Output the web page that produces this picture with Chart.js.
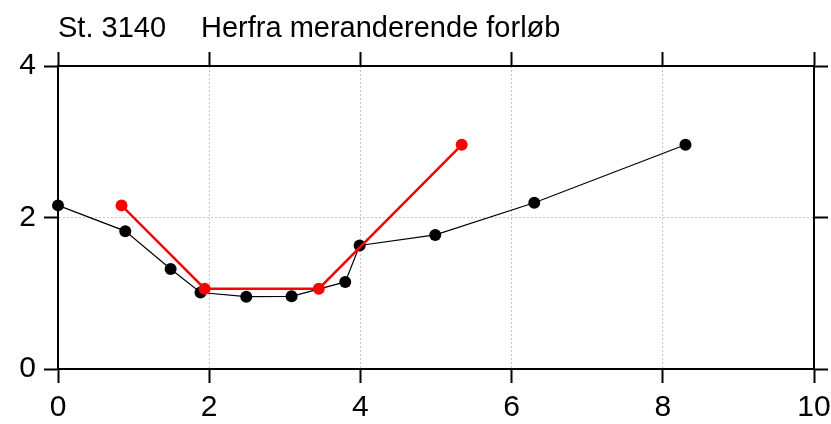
<!DOCTYPE html>
<html>
<head>
<meta charset="utf-8">
<script src="https://cdn.jsdelivr.net/npm/chart.js@4"></script>
<style>
  html, body { margin: 0; padding: 0; background: #fff; }
</style>
</head>
<body>
<canvas id="chart" width="831" height="424"></canvas>
<script>
// station profile
const stationLabel = "St. 3140";
const titleText = "Herfra meranderende forløb";

const measuredX = [0, 0.89, 1.49, 1.885, 2.49, 3.09, 3.80, 3.99, 4.99, 6.30, 8.30];
const measuredY = [2.16, 1.82, 1.32, 1.01, 0.955, 0.96, 1.15, 1.63, 1.77, 2.195, 2.96];

const designX = [0.84, 1.94, 3.45, 5.34];
const designY = [2.16, 1.06, 1.06, 2.96];

const xTicks = [0, 2, 4, 6, 8, 10];
const yTicks = [0, 2, 4];

const FONT = '"Liberation Sans", Arial, sans-serif';

function toPoints(xs, ys) {
  return xs.map((x, i) => ({ x: x, y: ys[i] }));
}

// dotted grid only inside, the frame is drawn by the axis borders
function innerGrid(min, max) {
  return function (ctx) {
    const v = ctx.tick && ctx.tick.value;
    return (v === min || v === max) ? 'rgba(0,0,0,0)' : '#c4c4c4';
  };
}

const titlePlugin = {
  id: 'stationTitle',
  afterDraw(chart) {
    const ctx = chart.ctx;
    const left = chart.chartArea.left;
    ctx.save();
    ctx.font = '29px ' + FONT;
    ctx.fillStyle = '#000';
    ctx.textBaseline = 'alphabetic';
    ctx.textAlign = 'left';
    ctx.fillText(stationLabel, left, 37);
    ctx.fillText(titleText, left + 143, 37);
    ctx.restore();
  }
};

const ctx = document.getElementById('chart').getContext('2d');
new Chart(ctx, {
  type: 'scatter',
  data: {
    datasets: [
      {
        label: 'design',
        data: toPoints(designX, designY),
        showLine: true,
        borderColor: '#ff0000',
        backgroundColor: '#ff0000',
        borderWidth: 2.5,
        pointRadius: 6,
        pointBorderWidth: 0,
        clip: false,
        order: 0
      },
      {
        label: 'measured',
        data: toPoints(measuredX, measuredY),
        showLine: true,
        borderColor: '#000000',
        backgroundColor: '#000000',
        borderWidth: 1.2,
        pointRadius: 6,
        pointBorderWidth: 0,
        clip: false,
        order: 1
      }
    ]
  },
  options: {
    responsive: false,
    animation: false,
    layout: {
      padding: { top: 52, left: 0, right: 0, bottom: 0 }
    },
    plugins: {
      legend: { display: false },
      tooltip: { enabled: false },
      title: { display: false }
    },
    scales: {
      x: {
        type: 'linear',
        position: 'bottom',
        min: 0,
        max: 10,
        afterBuildTicks: (axis) => { axis.ticks = xTicks.map(v => ({ value: v })); },
        afterFit: (axis) => { axis.height = 55; axis.paddingLeft = 0; axis.paddingRight = 0; },
        grid: {
          color: innerGrid(0, 10),
          lineWidth: 1,
          tickColor: '#000',
          tickWidth: 2,
          tickLength: 14
        },
        border: { display: true, color: '#000', width: 2, dash: [2, 2] },
        ticks: {
          color: '#000',
          padding: 10,
          maxRotation: 0,
          font: { family: FONT, size: 30, lineHeight: 1 }
        }
      },
      xTop: {
        type: 'linear',
        position: 'top',
        min: 0,
        max: 10,
        afterBuildTicks: (axis) => { axis.ticks = xTicks.map(v => ({ value: v })); },
        afterFit: (axis) => { axis.height = 14; axis.paddingLeft = 0; axis.paddingRight = 0; },
        grid: {
          drawOnChartArea: false,
          tickColor: '#000',
          tickWidth: 2,
          tickLength: 14
        },
        border: { display: true, color: '#000', width: 2 },
        ticks: { display: false }
      },
      y: {
        type: 'linear',
        position: 'left',
        min: 0,
        max: 4,
        afterBuildTicks: (axis) => { axis.ticks = yTicks.map(v => ({ value: v })); },
        afterFit: (axis) => { axis.width = 58; axis.paddingTop = 0; axis.paddingBottom = 0; },
        grid: {
          color: innerGrid(0, 4),
          lineWidth: 1,
          tickColor: '#000',
          tickWidth: 2,
          tickLength: 14
        },
        border: { display: true, color: '#000', width: 2, dash: [2, 2] },
        ticks: {
          color: '#000',
          padding: 8,
          font: { family: FONT, size: 30, lineHeight: 1 }
        }
      },
      yRight: {
        type: 'linear',
        position: 'right',
        min: 0,
        max: 4,
        afterBuildTicks: (axis) => { axis.ticks = yTicks.map(v => ({ value: v })); },
        afterFit: (axis) => { axis.width = 17; axis.paddingTop = 0; axis.paddingBottom = 0; },
        grid: {
          drawOnChartArea: false,
          tickColor: '#000',
          tickWidth: 2,
          tickLength: 14
        },
        border: { display: true, color: '#000', width: 2 },
        ticks: { display: false }
      }
    }
  },
  plugins: [titlePlugin]
});
</script>
</body>
</html>
